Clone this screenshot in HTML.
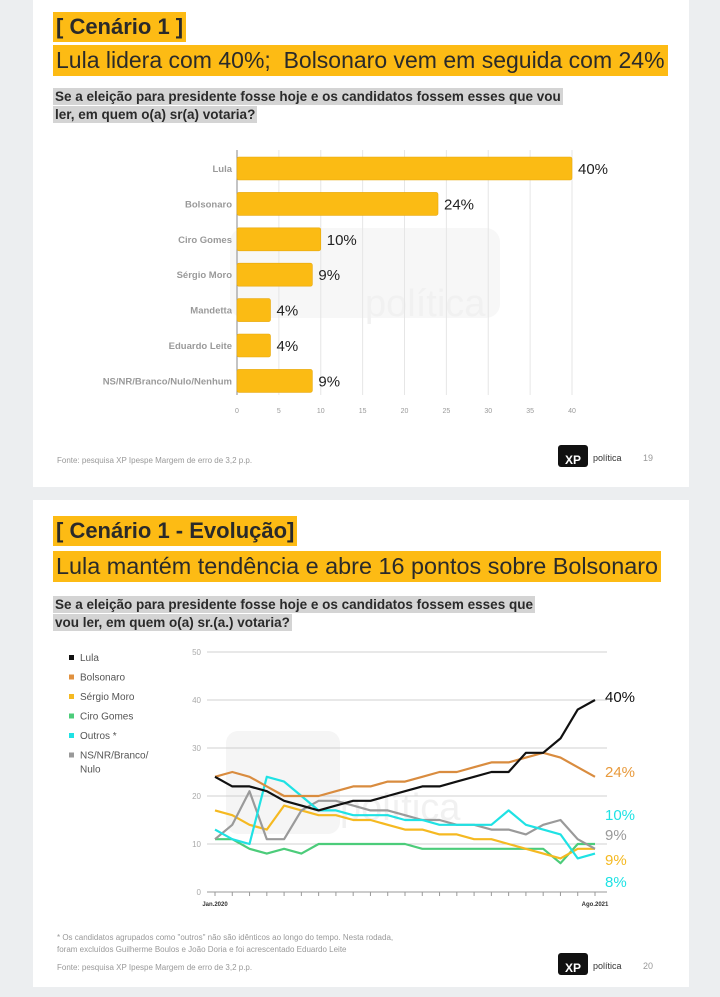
<!DOCTYPE html>
<html><head><meta charset="utf-8"><style>
body{margin:0;width:720px;height:997px;background:#eceef0;position:relative;overflow:hidden;font-family:"Liberation Sans",sans-serif}
.slide{position:absolute;left:33px;width:656px;background:#fff}
.abs{position:absolute;white-space:nowrap}
.ttl{background:#fdbb14;color:#2a2a2a;font-weight:bold;font-size:22px;line-height:30px;padding:0 3px}
.sub{background:#fdbb14;color:#2a2a2a;font-size:23px;line-height:31px;padding:0 3px}
.q{background:#d4d4d4;color:#2a2a2a;font-weight:bold;font-size:13.5px;line-height:17px;padding:0 2px}
.foot{color:#999;font-size:8px}
.logo{width:30px;height:22px;background:#111;border-radius:3px;color:#fff;font-weight:bold;font-size:12px;line-height:30px;text-align:center}
</style></head><body>
<div class="slide" style="top:0;height:487px"></div>
<div class="slide" style="top:500px;height:487px"></div>

<div class="abs ttl" style="left:53px;top:12px">[ Cenário 1 ]</div>
<div class="abs sub" style="left:53px;top:45px">Lula lidera com 40%;&nbsp; Bolsonaro vem em seguida com 24%</div>
<div class="abs q" style="left:53px;top:88px">Se a eleição para presidente fosse hoje e os candidatos fossem esses que vou</div>
<div class="abs q" style="left:53px;top:106px">ler, em quem o(a) sr(a) votaria?</div>

<svg class="abs" style="left:0;top:0" width="720" height="430" id="bars"></svg>

<div class="abs foot" style="left:57px;top:456px">Fonte: pesquisa XP Ipespe Margem de erro de 3,2 p.p.</div>
<div class="abs logo" style="left:558px;top:445px">XP</div>
<div class="abs" style="left:593px;top:453px;font-size:9px;color:#333">política</div>
<div class="abs" style="left:643px;top:453px;font-size:9px;color:#999">19</div>

<div class="abs ttl" style="left:53px;top:516px">[ Cenário 1 - Evolução]</div>
<div class="abs sub" style="left:53px;top:551px;font-size:23.4px">Lula mantém tendência e abre 16 pontos sobre Bolsonaro</div>
<div class="abs q" style="left:53px;top:596px">Se a eleição para presidente fosse hoje e os candidatos fossem esses que</div>
<div class="abs q" style="left:53px;top:614px">vou ler, em quem o(a) sr.(a.) votaria?</div>

<svg class="abs" style="left:0;top:640px" width="720" height="270" id="lines"></svg>

<div class="abs foot" style="left:57px;top:932px;line-height:12px">* Os candidatos agrupados como "outros" não são idênticos ao longo do tempo. Nesta rodada,<br>foram excluídos Guilherme Boulos e João Doria e foi acrescentado Eduardo Leite</div>
<div class="abs foot" style="left:57px;top:963px">Fonte: pesquisa XP Ipespe Margem de erro de 3,2 p.p.</div>
<div class="abs logo" style="left:558px;top:953px">XP</div>
<div class="abs" style="left:593px;top:961px;font-size:9px;color:#333">política</div>
<div class="abs" style="left:643px;top:961px;font-size:9px;color:#999">20</div>

<script>
const barCats=["Lula","Bolsonaro","Ciro Gomes","Sérgio Moro","Mandetta","Eduardo Leite","NS/NR/Branco/Nulo/Nenhum"];
const barVals=[40,24,10,9,4,4,9];
const barTicks=[0,5,10,15,20,25,30,35,40];

const months=["Jan.2020","","","","","","","","","","","","","","","","","","","","","","Ago.2021"];
const seriesNames=["Lula","Bolsonaro","Sérgio Moro","Ciro Gomes","Outros *","NS/NR/Branco/Nulo"];
const lula=[24,22,22,21,19,18,17,18,19,19,20,21,22,22,23,24,25,25,29,29,32,38,40];
const bolsonaro=[24,25,24,22,20,20,20,21,22,22,23,23,24,25,25,26,27,27,28,29,28,26,24];
const moro=[17,16,14,13,18,17,16,16,15,15,14,13,13,12,12,11,11,10,9,8,7,9,9];
const ciro=[11,11,9,8,9,8,10,10,10,10,10,10,9,9,9,9,9,9,9,9,6,10,10];
const outros=[13,11,10,24,23,20,17,17,16,16,16,15,15,14,14,14,14,17,14,13,12,7,8];
const ns=[11,14,21,11,11,17,19,19,18,17,17,16,15,15,14,14,13,13,12,14,15,11,9];
const lineTicks=[0,10,20,30,40,50];
const endLabels=["40%","24%","9%","10%","8%","9%"];

const NS="http://www.w3.org/2000/svg";
function mk(p,t,a){const e=document.createElementNS(NS,t);for(const k in a)e.setAttribute(k,a[k]);p.appendChild(e);return e;}

// bar chart
const bs=document.getElementById('bars');
const bx=v=>237+v*8.375, by=i=>157+i*35.4;
mk(bs,'rect',{x:230,y:228,width:270,height:90,rx:14,fill:'#f7f7f7'});
const wm=mk(bs,'text',{x:365,y:316,'font-size':38,fill:'#f1f1f1'});wm.textContent='política';
barTicks.forEach(t=>{
  const l=mk(bs,'line',{x1:bx(t),x2:bx(t),y1:150,y2:395,stroke:t?'#e6e6e6':'#888','stroke-width':1});
  
  const tx=mk(bs,'text',{x:bx(t),y:413,'font-size':7,fill:'#999','text-anchor':'middle'});tx.textContent=t;
  
});
barCats.forEach((c,i)=>{
  const r=mk(bs,'rect',{x:bx(0),y:by(i),width:bx(barVals[i])-bx(0),height:23,rx:2,fill:'#fbbb14',stroke:'#e7a90f','stroke-width':0.6});
  
  
  const l=mk(bs,'text',{x:232,y:by(i)+15,'font-size':9.5,'font-weight':'bold',fill:'#9a9a9a','text-anchor':'end'});l.textContent=c;
  
  const v=mk(bs,'text',{x:bx(barVals[i])+6,y:by(i)+17,'font-size':15,fill:'#222'});v.textContent=barVals[i]+'%';
  
});

// line chart (svg top = 640)
const ls=document.getElementById('lines');
const lx=i=>215+i*(380/22), ly=v=>252-v*4.8;
mk(ls,'rect',{x:226,y:91,width:114,height:103,rx:12,fill:'#f5f5f5'});
const wm2=mk(ls,'text',{x:340,y:180,'font-size':38,fill:'#f1f1f1'});wm2.textContent='política';
lineTicks.forEach(t=>{
  const g=mk(ls,'line',{x1:207,x2:607,y1:ly(t),y2:ly(t),stroke:t?'#d0d0d0':'#999','stroke-width':1});
  
  const tx=mk(ls,'text',{x:201,y:ly(t)+3,'font-size':8,fill:'#aaa','text-anchor':'end'});tx.textContent=t;
  
});
months.forEach((m,i)=>{
  mk(ls,'line',{x1:lx(i),x2:lx(i),y1:ly(0),y2:ly(0)+4,stroke:'#999'});
  if(m){const t=mk(ls,'text',{x:lx(i),y:ly(0)+14,'font-size':6,'font-weight':'bold',fill:'#333','text-anchor':'middle'});t.textContent=m;
  }
});
const allSeries=[lula,bolsonaro,moro,ciro,outros,ns];
const colors=['#111111','#d98c3f','#f5b921','#4ccc7a','#1fe2e4','#9a9a9a'];
const drawOrder=[3,2,5,4,1,0];
drawOrder.forEach(k=>{
  const d=allSeries[k].map((v,i)=>(i?'L':'M')+lx(i).toFixed(1)+','+ly(v).toFixed(1)).join(' ');
  const p=mk(ls,'path',{d:d,fill:'none',stroke:colors[k],'stroke-width':2.2,'stroke-linejoin':'round'});
  
  
});
// end labels
const endY=[697,772,860,815,882,835];
const endC=['#111','#e89a3c','#f5b921','#1fe2e4','#1fe2e4','#999'];
[0,1,3,5,2,4].forEach(k=>{
  const t=mk(ls,'text',{x:605,y:endY[k]-640+5,'font-size':15,fill:endC[k]});t.textContent=endLabels[k];
  
});
// legend
const legCol=['#111','#e0913f','#f5b921','#4ccc7a','#1fe2e4','#999'];
seriesNames.forEach((n,i)=>{
  const y=19+i*19.5;
  mk(ls,'rect',{x:69,y:y-4,width:5,height:5,fill:legCol[i]});
  const parts=n==="NS/NR/Branco/Nulo"?["NS/NR/Branco/","Nulo"]:[n];
  parts.forEach((s,j)=>{const t=mk(ls,'text',{x:80,y:y+2+j*14,'font-size':10,fill:'#555'});t.textContent=s;
  });
});
</script>
</body></html>
